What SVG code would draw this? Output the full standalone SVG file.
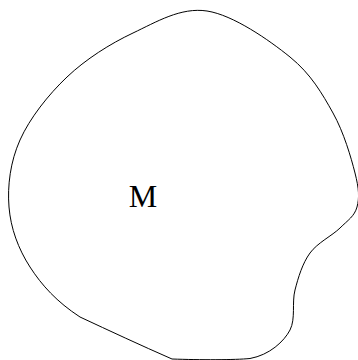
<svg xmlns="http://www.w3.org/2000/svg" width="358" height="360" viewBox="0 0 358 360">
<style>
.outline{fill:none;stroke:#000;stroke-width:1}
.lbl{font-family:"Liberation Serif","Times New Roman",serif;font-size:32px;fill:#000}
</style>
<rect width="358" height="360" fill="#fff"/>
<g id="region-M">
<path class="outline" d="M 207,11 C 233.2,15 269,40 290,57 C 311,74 322.2,93.7 333,113 C 343.8,132.3 351,157.3 355,173 C 359,188.7 359.5,197.8 357,207 C 354.5,216.2 347.8,220.3 340,228 C 332.2,235.7 317.5,242.7 310,253 C 302.5,263.3 298.3,277.2 295,290 C 291.7,302.8 295.8,318.7 290,330 C 284.2,341.3 269.5,355 250,358.5 C 235,360 200,360 172,359 C 140,345 110,331 80,317 C 56.7,301.8 41.8,285.3 30,267 C 18.2,248.7 10.7,228.2 9,207 C 7.3,185.8 10.3,161.7 20,140 C 29.7,118.3 48.2,94.8 67,77 C 85.8,59.2 109.7,44 133,33 C 156.3,22 180.8,7 207,11 Z"/>
<text class="lbl" x="143" y="207" text-anchor="middle">M</text>
</g>
</svg>
